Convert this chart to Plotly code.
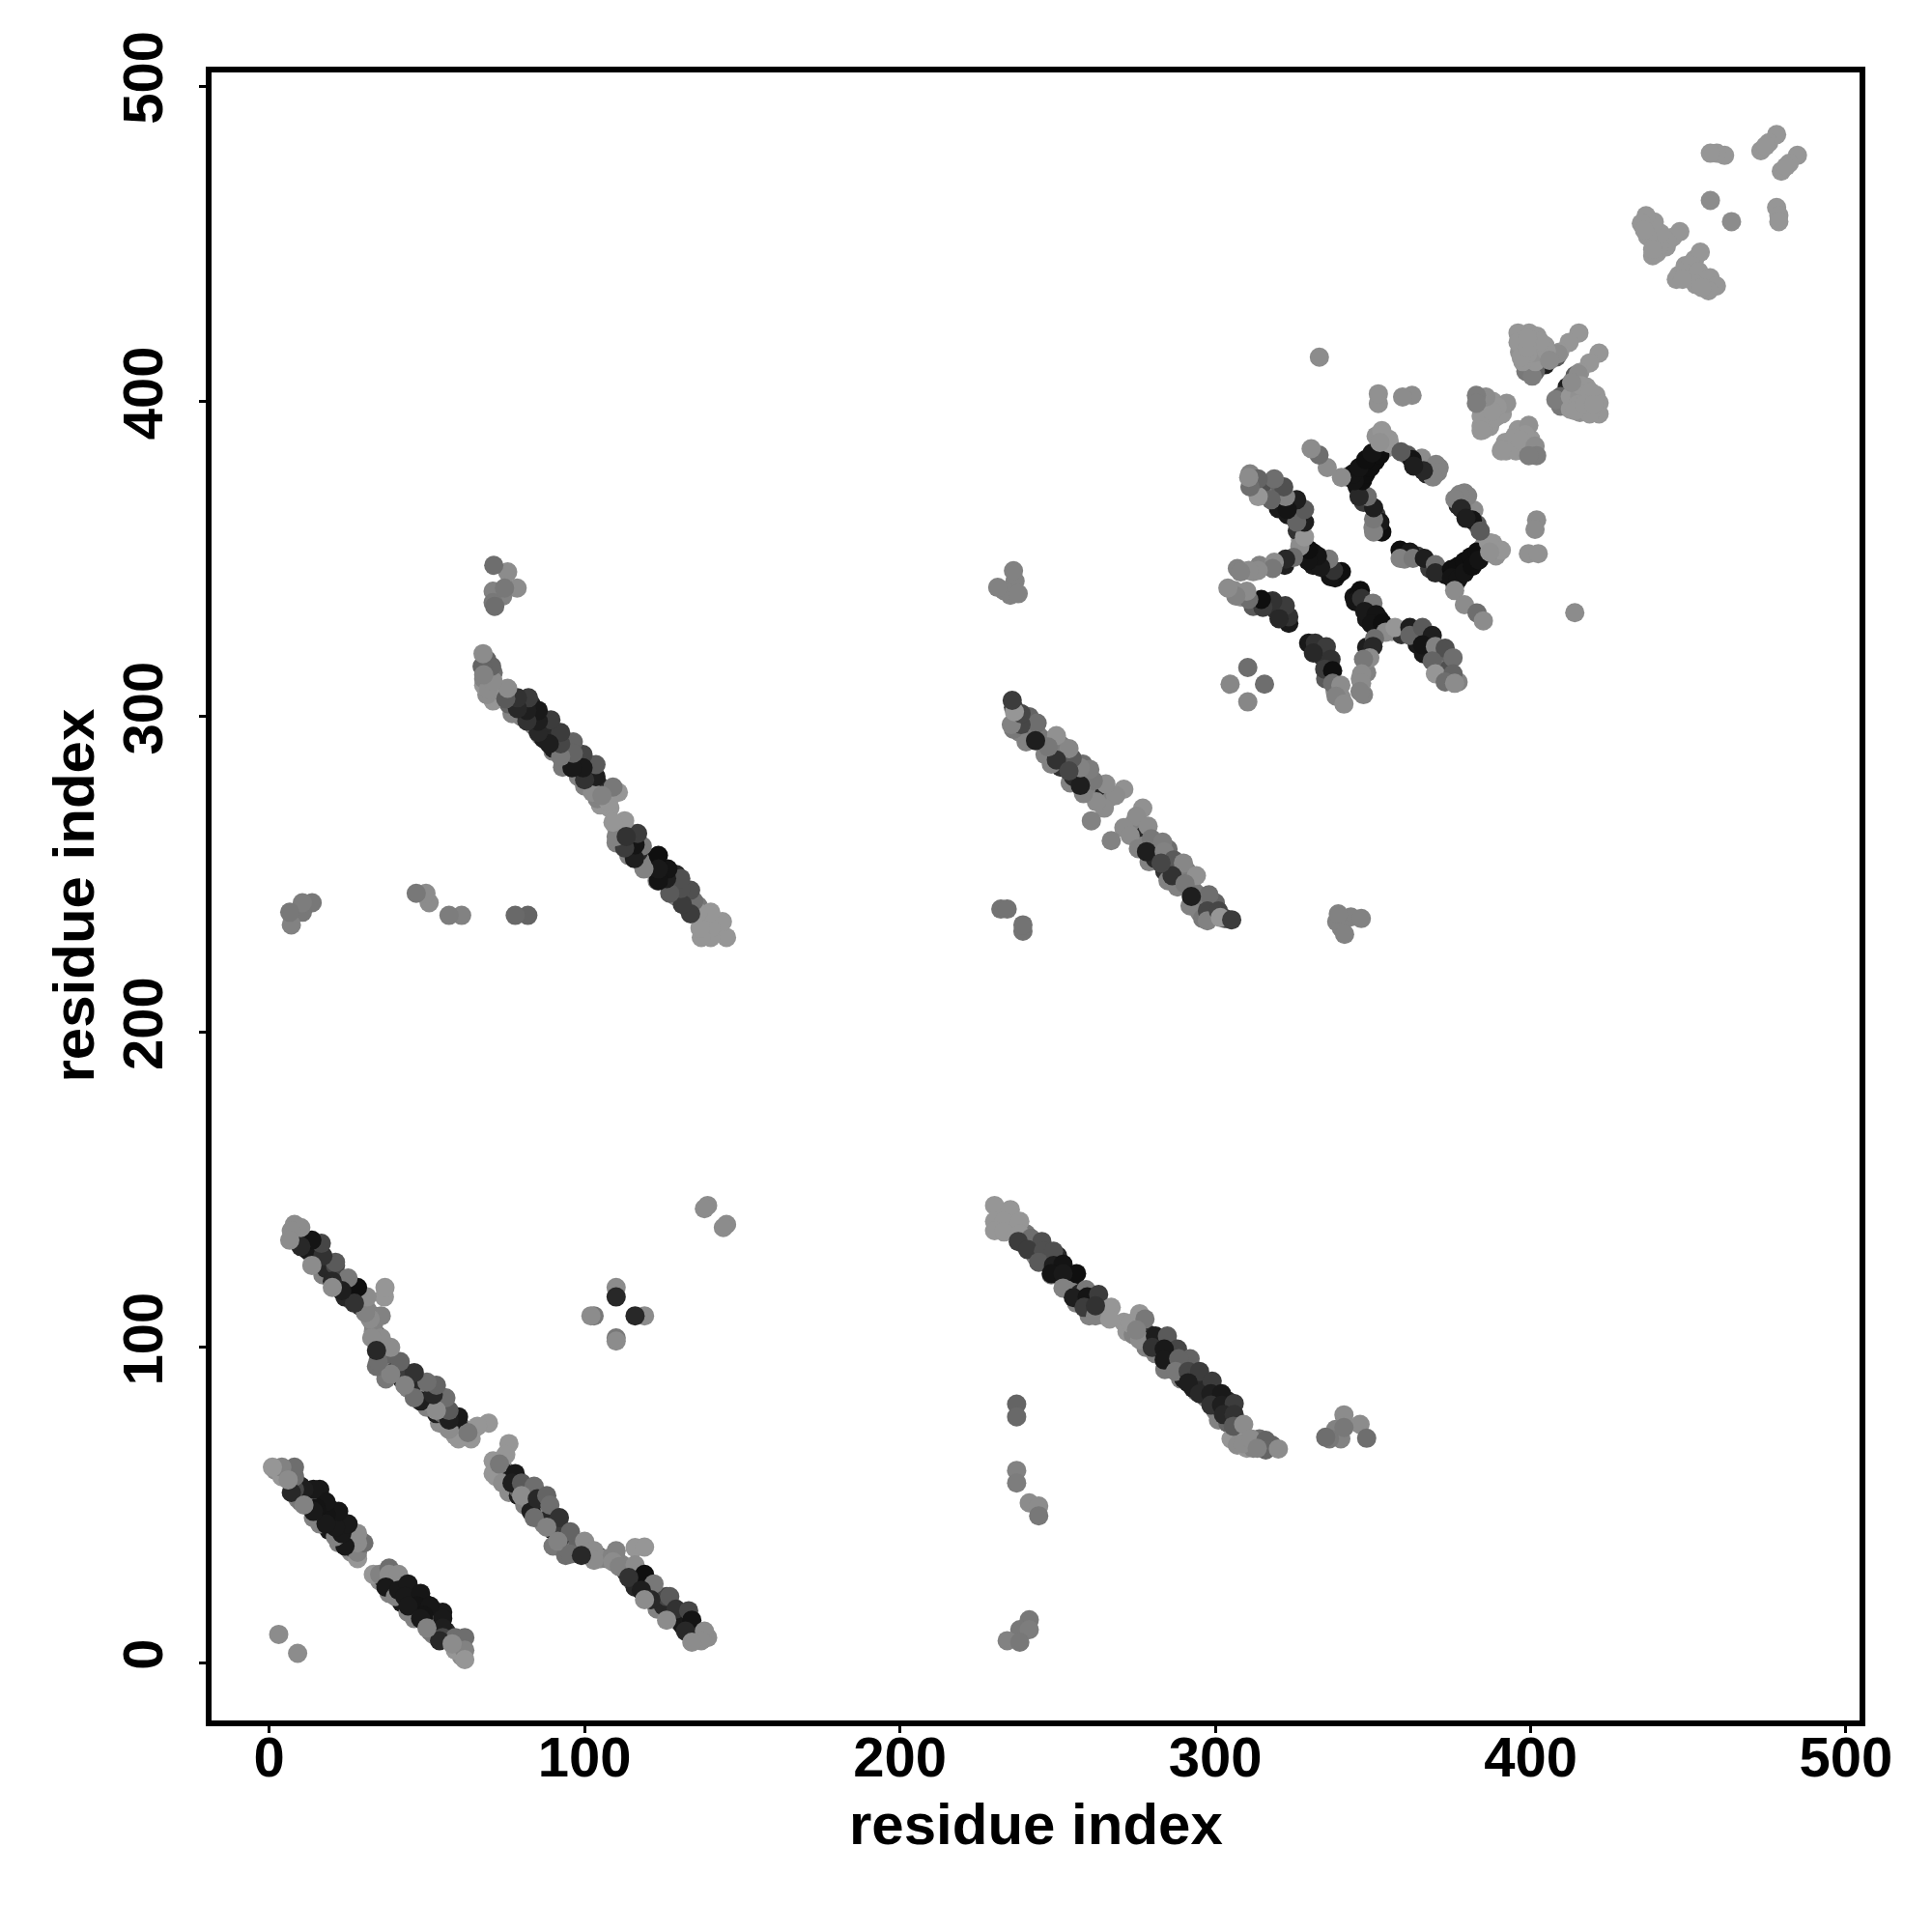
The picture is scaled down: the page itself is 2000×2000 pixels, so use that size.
import plotly.graph_objects as go

# contact map: symmetric, only the half with i > j is listed, the other half is the mirror image
rim_a_i = [35,36,39,38,42,42,45,44,46,47,49,50,52,53,50,53,54,52,57,60,61,55,56]
rim_a_j = [26,27,26,22,25,19,22,16,19,15,19,15,14,16,12,12,13,9,8,6,2,16,10]
rim_a_s = [140,25,25,130,130,25,25,130,130,20,25,25,20,20,25,25,130,130,60,140,140,25,40]

rim_b_i = [74,72,75,76,79,79,81,83,85,83,87,90,89,93,90,94,94,97,98,101,104,105,107,110,112,113,115,116,119,121,124,123,125,127,130,130,131,134,136,139,133,126]
rim_b_j = [62,59,60,54,53,55,50,50,47,48,44,42,46,42,37,37,34,36,38,36,34,33,33,33,31,29,26,24,25,22,19,17,18,15,16,13,12,8,9,8,11,21]
rim_b_s = [140,150,25,140,30,100,130,140,130,30,130,30,40,60,120,60,110,120,100,140,30,140,130,120,130,40,130,40,30,40,25,130,40,40,25,130,25,140,140,140,25,70]

rim_c_i = [232,236,240,239,242,243,246,247,250,252,253,255,254,257,256,260,261,260,264,265,263,250,243,248]
rim_c_j = [142,138,136,133,132,133,128,128,124,122,121,120,118,117,114,114,112,110,111,110,113,129,129,123]
rim_c_s = [150,150,120,80,60,70,50,20,130,20,25,30,130,40,130,40,40,130,120,150,100,40,130,130]

rim_d_i = [271,272,274,277,279,278,282,281,283,286,285,284,287,290,289,290,293,294,293,296,297,300,300,303,304,301,304,307,305,307,310,312,315,314,318,310]
rim_d_j = [108,105,104,105,104,100,101,98,101,100,96,93,96,94,90,90,90,86,87,88,84,83,80,80,83,77,76,73,71,69,68,68,68,71,69,71]
rim_d_s = [150,150,130,140,40,130,30,130,70,40,30,120,40,40,130,30,30,130,30,40,130,30,130,30,40,130,100,150,150,140,150,130,90,110,100,150]

rim_e_i = [274,276,277,280,279,282,285,284,287,285,288,289,291,293,295,292,295,298,300,296,303,281,277]
rim_e_j = [266,265,262,258,254,256,258,251,251,248,246,250,251,245,241,240,238,240,241,236,236,255,259]
rim_e_s = [140,130,40,40,130,30,110,50,25,130,130,40,125,120,90,130,130,70,100,120,70,40,130]

rim_arm_i = [347,349,352,348,356,359,363,367,364,366,371,374,371,374,377,351,348,344,346,333,334,336,335,338,339,340,348,347,346,348]
rim_arm_j = [335,334,331,331,327,326,326,324,323,320,320,318,315,315,311,328,335,338,340,321,319,316,312,308,307,306,314,307,312,322]
rim_arm_s = [30,30,20,25,150,50,30,20,25,25,100,100,120,80,130,30,20,20,15,40,50,20,90,140,140,140,130,130,140,30]

rim_ring_i = [360,364,368,373,376,378,380,382,376,385,388,389,379,383,380,378,377]
rim_ring_j = [350,351,347,345,345,348,348,351,342,354,355,351,371,361,365,368,367]
rim_ring_s = [130,60,60,20,15,15,15,15,60,140,150,145,130,90,50,100,40]

rim_top_i = [392,395,396,397,400,391,416,413,419,415,414,417,420,451,454,447,456,452,449,452]
rim_top_j = [387,389,391,385,388,385,405,406,403,399,397,399,399,439,439,440,437,441,443,445]
rim_top_s = [150,150,150,150,150,150,150,140,150,150,150,150,150,150,150,150,150,150,150,150]

band_a_i = [33,35,38,38,41,37,40,41,44,43,48,47,51,46,49,55,51,55,55,59,62,59,62,62,44,48,54,50,58]
band_a_j = [28,28,30,28,28,24,21,23,25,21,22,18,18,14,15,14,10,11,8,8,8,4,4,1,18,14,7,11,6]
band_a_s = [150,130,110,140,140,25,130,25,25,25,22,20,22,130,20,25,120,30,70,110,110,150,130,150,25,25,40,130,140]

band_b_i = [76,75,71,71,73,74,78,77,80,84,80,85,88,89,84,92,88,95.5,91.5,95.5,100,103,103,99,110,109,116,119,111,116,119,114,122,118,121,119,127,129,126,133,134,132,138,137,134]
band_b_j = [69.5,66,64,60,63,57,60,57,57,56,53,52,53,50,46,46,43,41.5,38.5,34.5,38.5,35.5,32.5,34,35.5,32,36.5,36.7,30.5,31,28,27,25,23,20,20,21,17,13.5,16.5,13.5,10,10,7,6.5]
band_b_s = [150,150,150,150,120,140,25,30,90,110,140,40,100,110,110,50,130,100,130,110,140,140,140,40,130,140,150,150,130,140,15,50,120,30,40,140,90,50,140,70,20,40,140,140,140]

quad_i = [119,116,110,110,145,144,9]
quad_j = [110,110,103,102,139,138,3]
quad_s = [140,40,120,140,140,140,140]

band_c_i = [230,235,230,233,230,233,238,238,241.5,245,237.5,240.5,245.5,248.7,244,248.7,251.7,256,248,251.7,259,251.7,255,259.4,263,258.4,262,267,266.5,262]
band_c_j = [145,143.7,140,140,137,136.6,140,136,134.6,133.6,133.6,131,130.5,130.5,127,126,126.4,123.4,123.4,123.4,118.3,118.8,115.8,116,116.8,112.7,110,112.7,109,113.2]
band_c_s = [150,150,150,150,150,150,150,150,110,80,60,60,80,80,90,30,20,15,20,25,120,130,30,20,60,60,130,150,150,50]

band_d_i = [273,276,277.7,276,275,281,284.8,280,288,283.8,283.8,292,288.4,287.4,291.4,295,291.4,299,295,298.6,302,298.6,302,306,302.6,306,305.7,309,308.7,311.3,316,316,313.3,320]
band_d_j = [107.6,110.7,109,102.5,105.5,103.6,103.6,100,99.5,99.5,96,96.4,96.4,92.4,92.4,92.4,88.8,89.3,85.3,85.3,85.3,81.7,81.7,82.2,78.7,78.7,75,75.6,69.5,71,70.5,67.5,68,67.8]
band_d_s = [150,150,120,140,130,30,90,50,70,25,25,100,100,120,70,60,30,60,40,30,25,50,30,60,40,50,90,140,140,140,100,100,130,140]

blob_i = [340.8,338.2,339.8,336.2,335,345.9,348,340.8,237,237,237,237,241,244,244,241,238,241,234,238,340,343,346.3,338.5,340,341,339,232,234]
blob_j = [78.6,74,71,71,71.5,75.6,71.2,74.6,82,78,61,57,50.7,49.7,46.6,13.6,10.5,10.5,7,6.5,236,236.5,236,235,233,231,237.5,239,239]
blob_s = [140,130,130,120,110,140,110,120,100,105,130,125,140,140,120,120,120,125,130,120,130,130,130,130,130,130,130,115,115]

band_e_i = [277,275,271,278.7,273,275.6,279.7,283.3,278.2,283.8,286.8,289.9,286.3,282.8,294,290.4,294.5,298,297.5,297.5,301,301.6,305.2,292.4,267]
band_e_j = [271,268.4,264.8,265.3,262.3,258.2,261.3,260.2,257.2,257.2,254.6,253.6,249.6,253.6,249.6,247,243.5,243.5,238.4,235.3,238.4,236.3,235.6,243,260.7]
band_e_s = [145,140,140,140,140,130,120,125,30,130,90,135,50,70,145,120,120,110,70,130,70,150,60,30,130]

arm_a_i = [345.4,344.4,346.4,350,347.4,351,349.5,353,354,357,361.7,361.7,365.7,368.8,365.7,369.8,372.9,375.4,368.8,369.8,375.4,372.9,375.9]
arm_a_j = [339,336.5,337.5,336,333.4,332.4,329.4,329.6,326.8,328.3,328.3,325.8,328.3,325.8,322.8,322.3,321.7,318.7,317.7,313.6,313.6,311,310.6]
arm_a_s = [15,20,50,120,25,20,20,15,140,150,30,100,90,30,20,130,80,110,100,150,100,110,140]

arm_b_i = [350.5,350,349,347,346.4,346.4,345.9,329.6,331.7,335.2,331.1,336.7,334.7,337.2,337.2,339.8,338.3,340.8,304.7,310.3]
arm_b_j = [324.8,322.3,318.7,318.2,313.6,310.6,308,323.3,323.3,322.2,320.2,318.2,315.1,314.6,310.6,310,306.5,304,310.3,315.6]
arm_b_s = [110,40,140,120,140,140,130,25,50,60,40,50,60,15,110,140,130,140,135,110]

ring_i = [358.6,361.7,358.6,362.7,366.3,369.8,369.8,374.9,377,379,381,383,374.9,377,379,381.5,383.6,375.9,379,383,385,386.6,390.7,387,382,381.5,384,380,377.5,376,378,379.5]
ring_j = [352.8,352.2,350.2,350.2,350.2,348.2,345.6,346.7,347.7,349.2,350.7,352.2,344.1,343.6,345.6,347.7,349.7,340,335.5,332.9,330.4,355.3,352.8,352.2,365.5,362.4,358.9,370,370.5,369,366,362.9]
ring_s = [15,25,130,120,30,110,40,15,15,15,15,15,20,20,20,15,20,140,140,110,140,150,150,145,140,20,90,130,130,130,40,30]

far_i = [401.9,401.4,399.3,402.4,414,391.2,399.4,398.3,394.8,392.2,395.3,396.8,390.7,401.4,401.9,399.4]
far_j = [362.4,359.4,351.7,351.7,333,384.8,392.4,389.4,388.3,384.3,384.3,387.8,384.3,385.8,382.8,382.8]
far_s = [140,140,145,145,140,150,145,150,150,150,150,150,150,140,125,125]

tip_i = [411.6,411,412,412,409.5,409.5,408,414.1,421.7,418.7,415.6,412.6,412.6,415.6,415.6,418.7,421.7,421.7,418.7,420.7,417.7,415.1]
tip_j = [404.6,399.5,402,398.5,401.5,398.5,400.5,408.2,415.3,412.2,409.2,401.5,397.5,401.5,396.5,399.5,399.5,396,396,402,404.6,408.7]
tip_s = [30,25,25,25,100,120,125,90,150,150,150,150,150,145,145,150,150,150,150,150,150,140]

end_i = [453.8,450.8,446.2,449.2,453.3,452.3,456.9,458.9,456.4,454.3,448.2,463.7,478,478.7,478.7,484.6,482,479.5,481]
end_j = [447.3,443.2,438.7,440.7,441.2,437.1,439.2,436.6,435.1,436.1,438.7,457,461.5,459,457,478,475.5,473,474.5]
end_s = [150,150,150,150,150,150,150,150,150,150,150,140,150,150,150,150,150,150,150]

groups = [
    (rim_a_i, rim_a_j, rim_a_s), (rim_b_i, rim_b_j, rim_b_s), (rim_c_i, rim_c_j, rim_c_s),
    (rim_d_i, rim_d_j, rim_d_s), (rim_e_i, rim_e_j, rim_e_s), (rim_arm_i, rim_arm_j, rim_arm_s),
    (rim_ring_i, rim_ring_j, rim_ring_s), (tip_i, tip_j, tip_s), (rim_top_i, rim_top_j, rim_top_s),
    (band_a_i, band_a_j, band_a_s), (band_b_i, band_b_j, band_b_s), (quad_i, quad_j, quad_s),
    (band_c_i, band_c_j, band_c_s), (band_d_i, band_d_j, band_d_s), (blob_i, blob_j, blob_s),
    (band_e_i, band_e_j, band_e_s), (arm_a_i, arm_a_j, arm_a_s), (arm_b_i, arm_b_j, arm_b_s),
    (ring_i, ring_j, ring_s), (far_i, far_j, far_s), (end_i, end_j, end_s),
]
xs, ys, cs = [], [], []
for gi, gj, gs in groups:
    for a, b, s in zip(gi, gj, gs, strict=True):
        xs += [a, b]
        ys += [b, a]
        cs += [f"rgb({s},{s},{s})"] * 2

tick_vals = [0, 100, 200, 300, 400, 500]
axis_title = "residue index"
font = "Liberation Sans"
title_font = dict(family=font, size=60, color="black", weight="bold")

fig = go.Figure(go.Scatter(x=xs, y=ys, mode="markers", marker=dict(size=20, color=cs, line_width=0), hoverinfo="skip"))
common = dict(range=[-18.3, 504.3], tickvals=tick_vals, showgrid=False, zeroline=False, ticks="outside", ticklen=7,
              tickwidth=3, tickcolor="black", showline=True, linecolor="black", linewidth=6, mirror=True,
              tickfont=dict(family=font, size=58, color="black", weight="bold"))
fig.update_xaxes(**common, ticklabelstandoff=-25)
fig.update_yaxes(**common, tickangle=-90, ticklabelstandoff=15)
fig.add_annotation(text=axis_title, xref="paper", yref="paper", x=0.5, y=-0.0631, yanchor="middle",
                   showarrow=False, font=title_font)
fig.add_annotation(text=axis_title, xref="paper", yref="paper", x=-0.0835, y=0.5006, xanchor="center", yanchor="middle",
                   textangle=-90, showarrow=False, font=title_font)
fig.update_layout(width=2000, height=2000, margin=dict(l=211, r=83, t=67, b=227, autoexpand=False),
                  plot_bgcolor="white", paper_bgcolor="white", showlegend=False)
fig.write_html("out.html", config=dict(displayModeBar=False))
